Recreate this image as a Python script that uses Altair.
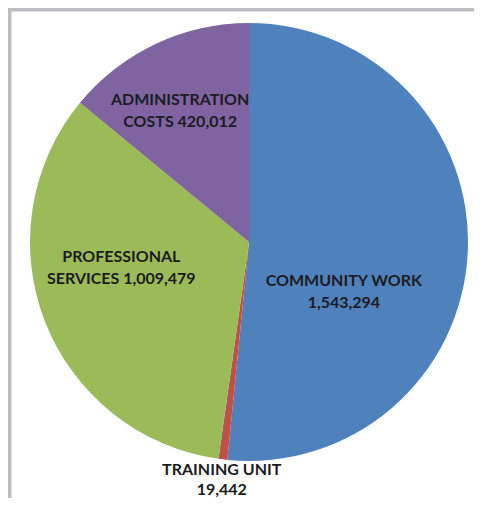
import altair as alt
import pandas as pd

# ---- data ----
categories = ["COMMUNITY WORK", "TRAINING UNIT", "PROFESSIONAL SERVICES", "ADMINISTRATION COSTS"]
values = [1543294, 19442, 1009479, 420012]
labels = [
    "COMMUNITY WORK\n1,543,294",
    "TRAINING UNIT\n19,442",
    "PROFESSIONAL\nSERVICES 1,009,479",
    "ADMINISTRATION\nCOSTS  420,012",
]

# ---- style / layout ----
colors = ["#4f81bd", "#c0504d", "#9bbb59", "#8064a2"]
label_radius = [95, 229, 137, 145]
label_dx = [0, 0, 0, -7]
label_dy = [34, 1, -35, -11]
label_lh = [22, 20, 22, 22]
CX, CY, R = 238, 231, 219

df = pd.DataFrame({
    "order": list(range(len(categories))),
    "category": categories,
    "value": values,
    "label": labels,
})

base = alt.Chart(df)

pie = base.mark_arc(outerRadius=R).encode(
    theta=alt.Theta("value:Q", stack=True),
    order=alt.Order("order:Q"),
    color=alt.Color("category:N", scale=alt.Scale(domain=categories, range=colors), legend=None),
    x=alt.value(CX),
    y=alt.value(CY),
)

layers = [pie]
for i in range(len(categories)):
    t = base.transform_calculate(
        t=f"datum.order == {i} ? datum.label : ''"
    ).mark_text(
        radius=label_radius[i], dx=label_dx[i], dy=label_dy[i],
        font="Lato", fontSize=16, fontWeight="bold", lineBreak="\n", lineHeight=label_lh[i],
        color="#1c1c22", align="center", baseline="middle",
    ).encode(
        theta=alt.Theta("value:Q", stack=True),
        order=alt.Order("order:Q"),
        text="t:N",
        x=alt.value(CX),
        y=alt.value(CY),
    )
    layers.append(t)

chart = alt.layer(*layers).properties(
    width=463, height=487,
    padding={"left": 3, "top": 3, "right": 0, "bottom": 0},
    autosize=alt.AutoSizeParams(type="none"),
    background="#b9bcbf",
).configure_view(fill="white", strokeOpacity=0)

chart.save("out.html", embed_options={"renderer": "svg", "actions": False})
